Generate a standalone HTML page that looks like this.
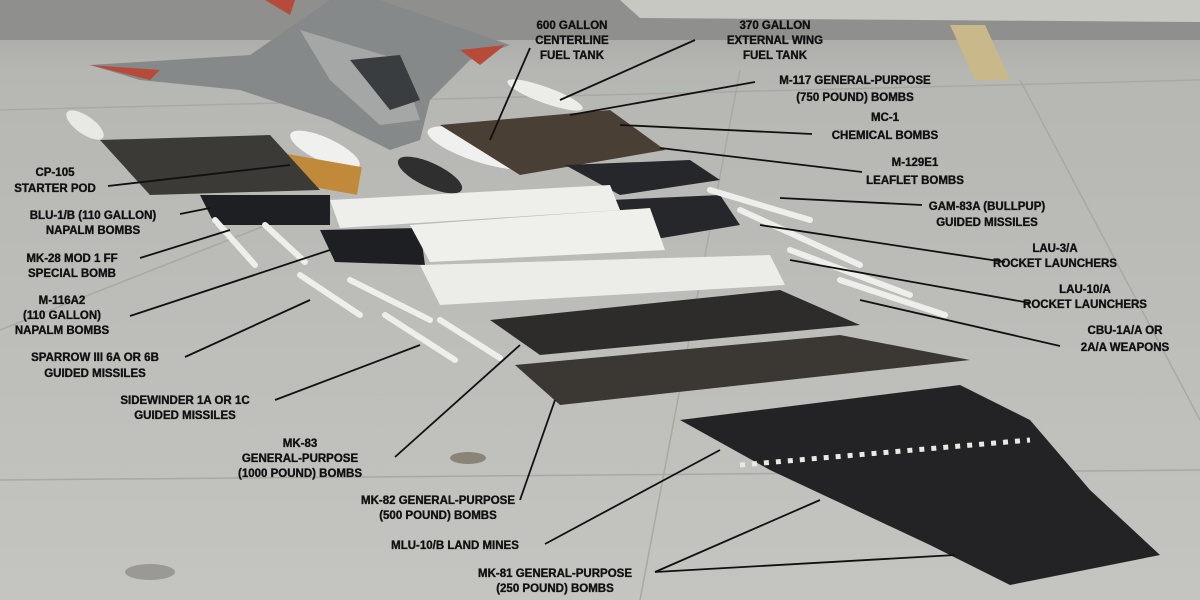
<!DOCTYPE html>
<html><head><meta charset="utf-8"><style>
html,body{margin:0;padding:0;width:1200px;height:600px;overflow:hidden;background:#bdbdb9}
text{font-family:"Liberation Sans",sans-serif;font-weight:bold;font-size:11.5px;fill:#111;stroke:#111;stroke-width:0.35;text-anchor:middle}
</style></head><body>
<svg width="1200" height="600" viewBox="0 0 1200 600" xmlns="http://www.w3.org/2000/svg">
<defs>
<linearGradient id="bg" x1="0" y1="0" x2="0" y2="1">
<stop offset="0" stop-color="#a2a39f"/><stop offset="0.12" stop-color="#b6b7b3"/><stop offset="1" stop-color="#c4c4c0"/>
</linearGradient>
</defs>
<rect width="1200" height="600" fill="url(#bg)"/>
<rect x="0" y="0" width="1200" height="40" fill="#8f908d"/>
<polygon points="620,0 1200,0 1200,22 640,18" fill="#c8c8c3"/>
<polygon points="950,25 985,25 1010,80 975,80" fill="#c9b98a"/>
<g stroke="#a8a8a4" stroke-width="1.5" fill="none">
<line x1="0" y1="480" x2="1200" y2="470"/><line x1="0" y1="330" x2="330" y2="200"/>
<line x1="1020" y1="80" x2="1200" y2="420"/><line x1="740" y1="70" x2="640" y2="600"/>
<line x1="0" y1="110" x2="1200" y2="80"/>
</g>
<polygon points="90,65 250,55 330,0 380,0 510,45 470,60 430,100 420,140 390,150 330,120 240,90 140,80" fill="#85898a"/>
<polygon points="300,30 400,60 420,120 380,125 330,80" fill="#a4a7a6"/>
<polygon points="350,60 400,55 420,100 390,110" fill="#3a3d40"/>
<polygon points="90,65 160,70 150,80" fill="#b84a3a"/>
<polygon points="460,50 505,45 480,65" fill="#b84a3a"/>
<polygon points="265,0 295,0 290,15" fill="#b84a3a"/>
<ellipse cx="430" cy="175" rx="35" ry="12" transform="rotate(25 430 175)" fill="#2f2f2f"/>
<ellipse cx="480" cy="148" rx="55" ry="14" transform="rotate(18 480 148)" fill="#f0f0ee"/>
<ellipse cx="325" cy="150" rx="38" ry="12" transform="rotate(25 325 150)" fill="#f0f0ee"/>
<ellipse cx="545" cy="95" rx="40" ry="8" transform="rotate(20 545 95)" fill="#ecece8"/>
<ellipse cx="85" cy="125" rx="22" ry="9" transform="rotate(35 85 125)" fill="#e8e8e4"/>
<rect x="280" y="160" width="80" height="28" fill="#c08a3a" transform="rotate(10 320 174)"/>
<polygon points="100,140 270,135 320,190 150,195" fill="#3c3a36"/>
<polygon points="200,195 330,195 330,225 215,225" fill="#1e1f22"/>
<polygon points="440,125 610,110 665,150 520,175" fill="#4a3f35"/>
<polygon points="565,165 690,160 720,180 620,195" fill="#25272b"/>
<polygon points="610,200 720,195 740,225 650,240" fill="#25272b"/>
<polygon points="320,230 420,228 425,265 335,262" fill="#1e1f22"/>
<polygon points="330,200 610,185 620,210 340,228" fill="#eeeeea"/>
<polygon points="410,225 650,208 665,250 430,262" fill="#efefeb"/>
<polygon points="420,265 770,255 785,285 440,305" fill="#ecece8"/>
<g stroke="#eeeeea" stroke-width="6" stroke-linecap="round">
<line x1="215" y1="220" x2="255" y2="265"/><line x1="265" y1="225" x2="305" y2="262"/>
<line x1="300" y1="275" x2="360" y2="315"/><line x1="350" y1="280" x2="430" y2="320"/>
<line x1="385" y1="315" x2="455" y2="360"/><line x1="440" y1="320" x2="500" y2="358"/>
<line x1="710" y1="190" x2="810" y2="220"/><line x1="740" y1="210" x2="860" y2="265"/>
<line x1="790" y1="250" x2="910" y2="295"/><line x1="840" y1="280" x2="945" y2="315"/>
</g>
<polygon points="490,320 780,290 860,325 540,355" fill="#2e2c2a"/>
<polygon points="515,365 840,335 970,360 560,405" fill="#3b3733"/>
<polygon points="680,420 960,385 1030,420 1090,490 1160,555 1010,585 930,545 770,470" fill="#232325"/>
<polyline points="740,465 1030,440" stroke="#e8e8e4" stroke-width="5" stroke-dasharray="5 7" fill="none"/>
<ellipse cx="468" cy="458" rx="18" ry="6" fill="#8a8478"/>
<ellipse cx="150" cy="572" rx="25" ry="8" fill="#9a9994"/>
<g stroke="#111" stroke-width="1.8" fill="none">
<line x1="530" y1="48" x2="490" y2="140"/>
<line x1="695" y1="40" x2="560" y2="100"/>
<line x1="755" y1="82" x2="570" y2="115"/>
<line x1="812" y1="134" x2="620" y2="125"/>
<line x1="862" y1="172" x2="660" y2="148"/>
<line x1="922" y1="205" x2="780" y2="198"/>
<line x1="1005" y1="262" x2="760" y2="225"/>
<line x1="1030" y1="303" x2="790" y2="260"/>
<line x1="1060" y1="346" x2="860" y2="300"/>
<line x1="108" y1="186" x2="290" y2="165"/>
<line x1="180" y1="214" x2="210" y2="208"/>
<line x1="140" y1="258" x2="230" y2="230"/>
<line x1="130" y1="316" x2="330" y2="250"/>
<line x1="185" y1="357" x2="310" y2="300"/>
<line x1="275" y1="400" x2="420" y2="345"/>
<line x1="395" y1="457" x2="520" y2="345"/>
<line x1="520" y1="500" x2="555" y2="400"/>
<line x1="545" y1="544" x2="720" y2="450"/>
<line x1="655" y1="572" x2="820" y2="500"/>
<line x1="655" y1="572" x2="955" y2="555"/>
</g>
<text x="572" y="29">600 GALLON</text><text x="572" y="44">CENTERLINE</text><text x="572" y="59">FUEL TANK</text>
<text x="775" y="29">370 GALLON</text><text x="775" y="44">EXTERNAL WING</text><text x="775" y="59">FUEL TANK</text>
<text x="855" y="84">M-117 GENERAL-PURPOSE</text><text x="855" y="101">(750 POUND) BOMBS</text>
<text x="885" y="121">MC-1</text><text x="885" y="139">CHEMICAL BOMBS</text>
<text x="915" y="166">M-129E1</text><text x="915" y="184">LEAFLET BOMBS</text>
<text x="987" y="210">GAM-83A (BULLPUP)</text><text x="987" y="226">GUIDED MISSILES</text>
<text x="1055" y="252">LAU-3/A</text><text x="1055" y="267">ROCKET LAUNCHERS</text>
<text x="1085" y="293">LAU-10/A</text><text x="1085" y="308">ROCKET LAUNCHERS</text>
<text x="1125" y="334">CBU-1A/A OR</text><text x="1125" y="351">2A/A WEAPONS</text>
<text x="55" y="176">CP-105</text><text x="55" y="192">STARTER POD</text>
<text x="93" y="219">BLU-1/B (110 GALLON)</text><text x="93" y="234">NAPALM BOMBS</text>
<text x="72" y="262">MK-28 MOD 1 FF</text><text x="72" y="277">SPECIAL BOMB</text>
<text x="62" y="304">M-116A2</text><text x="62" y="319">(110 GALLON)</text><text x="62" y="334">NAPALM BOMBS</text>
<text x="95" y="361">SPARROW III 6A OR 6B</text><text x="95" y="377">GUIDED MISSILES</text>
<text x="185" y="404">SIDEWINDER 1A OR 1C</text><text x="185" y="419">GUIDED MISSILES</text>
<text x="300" y="447">MK-83</text><text x="300" y="462">GENERAL-PURPOSE</text><text x="300" y="477">(1000 POUND) BOMBS</text>
<text x="438" y="504">MK-82 GENERAL-PURPOSE</text><text x="438" y="519">(500 POUND) BOMBS</text>
<text x="455" y="549">MLU-10/B LAND MINES</text>
<text x="555" y="577">MK-81 GENERAL-PURPOSE</text><text x="555" y="592">(250 POUND) BOMBS</text>
</svg>
</body></html>
